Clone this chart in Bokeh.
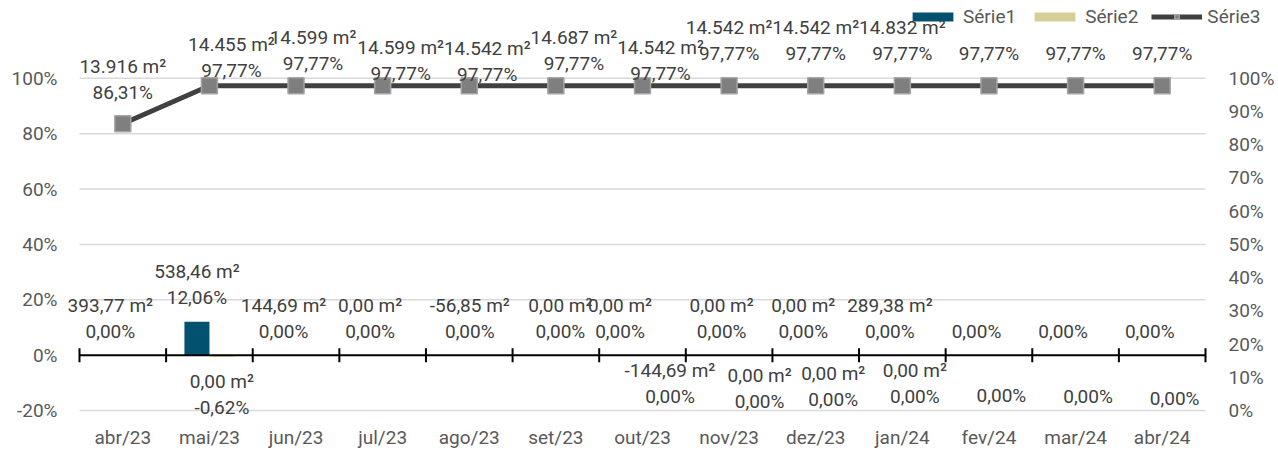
import math
from bokeh.plotting import figure
from bokeh.models import (Range1d, FixedTicker, ColumnDataSource, Legend, LegendItem)
from bokeh.core.properties import value
from bokeh.embed import file_html
from bokeh.resources import INLINE

# ---------------- data ----------------
categories = ["abr/23", "mai/23", "jun/23", "jul/23", "ago/23", "set/23", "out/23",
              "nov/23", "dez/23", "jan/24", "fev/24", "mar/24", "abr/24"]
serie1 = [0.00, 12.06, 0.00, 0.00, 0.00, 0.00, 0.00, 0.00, 0.00, 0.00, 0.00, 0.00, 0.00]
serie2 = [0.00, -0.62, 0.00, 0.00, 0.00, 0.00, 0.00, 0.00, 0.00, 0.00, 0.00, 0.00, 0.00]
serie3 = [86.31, 97.77, 97.77, 97.77, 97.77, 97.77, 97.77, 97.77, 97.77, 97.77, 97.77, 97.77, 97.77]
serie1_area = ["393,77 m²", "538,46 m²", "144,69 m²", "0,00 m²", "-56,85 m²", "0,00 m²",
               "0,00 m²", "0,00 m²", "0,00 m²", "289,38 m²", "", "", ""]
serie2_area = ["", "0,00 m²", "", "", "", "", "-144,69 m²", "0,00 m²", "0,00 m²", "0,00 m²",
               "", "", ""]
serie2_shown = [False, True, False, False, False, False, True, True, True, True, True, True, True]
serie3_area = ["13.916 m²", "14.455 m²", "14.599 m²", "14.599 m²", "14.542 m²", "14.687 m²",
               "14.542 m²", "14.542 m²", "14.542 m²", "14.832 m²", "", "", ""]
left_ticks = [-20, 0, 20, 40, 60, 80, 100]
right_ticks = [0, 10, 20, 30, 40, 50, 60, 70, 80, 90, 100]

# label nudges (screen pixels) -- styling only
s1_dx = [0, 0, 0, 0, 13, 17, -10, 5, 0, 0, 0, 0, 0]
s2_dx = [0, 0, 0, 0, 0, 0, 15, 18, 5, 0, 0, 0, 0]
s2_dy = [0, 51, 0, 0, 0, 0, 41, 46, 44, 41, 40, 41, 43]
s3_dx = [0, 22, 17, 18, 18, 18, 18, 0, 0, 0, 0, 0, 0]
s3_dy = [31, 15, 22, 12, 11, 22, 12, 32, 32, 32, 32, 32, 32]


def pct(v):
    return f"{v:.2f}%".replace(".", ",")


FONT = "Roboto"
FS = "19px"
LABEL_COLOR = "#404040"
AXIS_COLOR = "#595959"
C1 = "#02526F"
C2 = "#D5CF97"
C3 = "#404040"

n = len(categories)
idx = list(range(n))
DODGE = 0.144
BAR_W = 0.289

# geometry (pixels)
W, H = 1278, 451
CAT_W = 1126          # width of the category area
PH = 333              # height of the -20%..100% band
BORDER_L, BORDER_B = 60, 31
EXTRA_L = 19
EXTRA_R = W - BORDER_L - CAT_W - EXTRA_L
EXTRA_T, EXTRA_B = 78, 9

ux = n / CAT_W
lmin, lmax = left_ticks[0], left_ticks[-1]
ly = (lmax - lmin) / PH
rmin, rmax = right_ticks[0], right_ticks[-1]
ry = (rmax - rmin) / PH

p = figure(width=W, height=H, output_backend="svg", toolbar_location=None,
           x_range=Range1d(-0.5 - EXTRA_L * ux, n - 0.5 + EXTRA_R * ux),
           y_range=Range1d(lmin - EXTRA_B * ly, lmax + EXTRA_T * ly),
           min_border_left=BORDER_L, min_border_right=0,
           min_border_top=0, min_border_bottom=BORDER_B)
p.outline_line_color = None
p.extra_y_ranges = {"right": Range1d(rmin - EXTRA_B * ry, rmax + EXTRA_T * ry)}

p.xgrid.visible = False
p.ygrid.visible = False

# left axis
ya = p.yaxis[0]
ya.ticker = FixedTicker(ticks=left_ticks)
ya.major_label_overrides = {t: f"{t}%" for t in left_ticks}
ya.axis_line_color = None
ya.major_tick_line_color = None
ya.minor_tick_line_color = None
ya.major_tick_out = 0
ya.major_tick_in = 0
ya.major_label_standoff = 3
ya.major_label_text_font = FONT
ya.major_label_text_font_size = FS
ya.major_label_text_color = AXIS_COLOR

# bottom category labels
xa = p.xaxis[0]
xa.ticker = FixedTicker(ticks=idx)
xa.major_label_overrides = {i: c for i, c in enumerate(categories)}
xa.axis_line_color = None
xa.major_tick_line_color = None
xa.minor_tick_line_color = None
xa.major_tick_out = 0
xa.major_tick_in = 0
xa.major_label_standoff = 6
xa.major_label_text_font = FONT
xa.major_label_text_font_size = FS
xa.major_label_text_color = AXIS_COLOR

txt = dict(text_font=value(FONT), text_font_size=value(FS), text_color=LABEL_COLOR,
           text_align="center", text_baseline="middle")

# secondary (right) axis tick labels
p.text(x=[n - 0.5] * len(right_ticks), y=right_ticks, y_range_name="right",
       text=[f"{t}%" for t in right_ticks], x_offset=23,
       text_font=value(FONT), text_font_size=value(FS), text_color=AXIS_COLOR,
       text_align="left", text_baseline="middle")

# horizontal gridlines over the category area only
grid_ticks = [t for t in left_ticks if t != 0]
p.segment(x0=[-0.5] * len(grid_ticks), x1=[n - 0.5] * len(grid_ticks),
          y0=grid_ticks, y1=grid_ticks, line_color="#D9D9D9", line_width=1.5)

# bars
src1 = ColumnDataSource(dict(x=[i - DODGE for i in idx], top=serie1))
src2 = ColumnDataSource(dict(x=[i + DODGE for i in idx], top=serie2))
b1 = p.vbar(x="x", top="top", bottom=0, width=BAR_W, source=src1, fill_color=C1, line_color=None)
b2 = p.vbar(x="x", top="top", bottom=0, width=BAR_W, source=src2, fill_color=C2, line_color=None)

# zero axis line with category boundary ticks
p.segment(x0=[-0.5], x1=[n - 0.5], y0=[0], y1=[0], line_color="black", line_width=2)
p.scatter(x=[i - 0.5 for i in range(n + 1)], y=[0] * (n + 1), marker="dash", angle=math.pi / 2,
          size=14, line_color="black", line_width=2)

# line series (right axis)
ln = p.line(x=idx, y=serie3, y_range_name="right", line_color=C3, line_width=5)
sc = p.scatter(x=idx, y=serie3, y_range_name="right", marker="square", size=16,
               fill_color="#7F7F7F", line_color="#A5A5A5", line_width=1.5)

# Serie1 labels (above bars)
s1y = [max(v, 0) for v in serie1]
p.text(x=[i - DODGE for i in idx], y=s1y, text=[pct(v) for v in serie1],
       x_offset=s1_dx, y_offset=[-24] * n, **txt)
p.text(x=[i - DODGE for i in idx], y=s1y, text=serie1_area,
       x_offset=s1_dx, y_offset=[-50] * n, **txt)

# Serie2 labels (below bars)
s2y = [min(v, 0) for v in serie2]
p.text(x=[i + DODGE for i in idx], y=s2y,
       text=[pct(v) if s else "" for v, s in zip(serie2, serie2_shown)],
       x_offset=s2_dx, y_offset=s2_dy, **txt)
p.text(x=[i + DODGE for i in idx], y=s2y, text=serie2_area,
       x_offset=s2_dx, y_offset=[d - 26 for d in s2_dy], **txt)

# Serie3 labels
p.text(x=idx, y=serie3, y_range_name="right", text=[pct(v) for v in serie3],
       x_offset=s3_dx, y_offset=[-d for d in s3_dy], **txt)
p.text(x=idx, y=serie3, y_range_name="right", text=serie3_area,
       x_offset=s3_dx, y_offset=[-(d + 26) for d in s3_dy], **txt)

legend = Legend(items=[LegendItem(label="Série1", renderers=[b1]),
                       LegendItem(label="Série2", renderers=[b2]),
                       LegendItem(label="Série3", renderers=[ln, sc])],
                orientation="horizontal", location=(847, 391),
                glyph_width=51, glyph_height=11, label_standoff=5, spacing=13,
                padding=0, margin=0, border_line_color=None, background_fill_alpha=0,
                label_text_font=FONT, label_text_font_size=FS, label_text_color=AXIS_COLOR)
p.add_layout(legend)

open("out.html", "w").write(file_html(p, INLINE))
